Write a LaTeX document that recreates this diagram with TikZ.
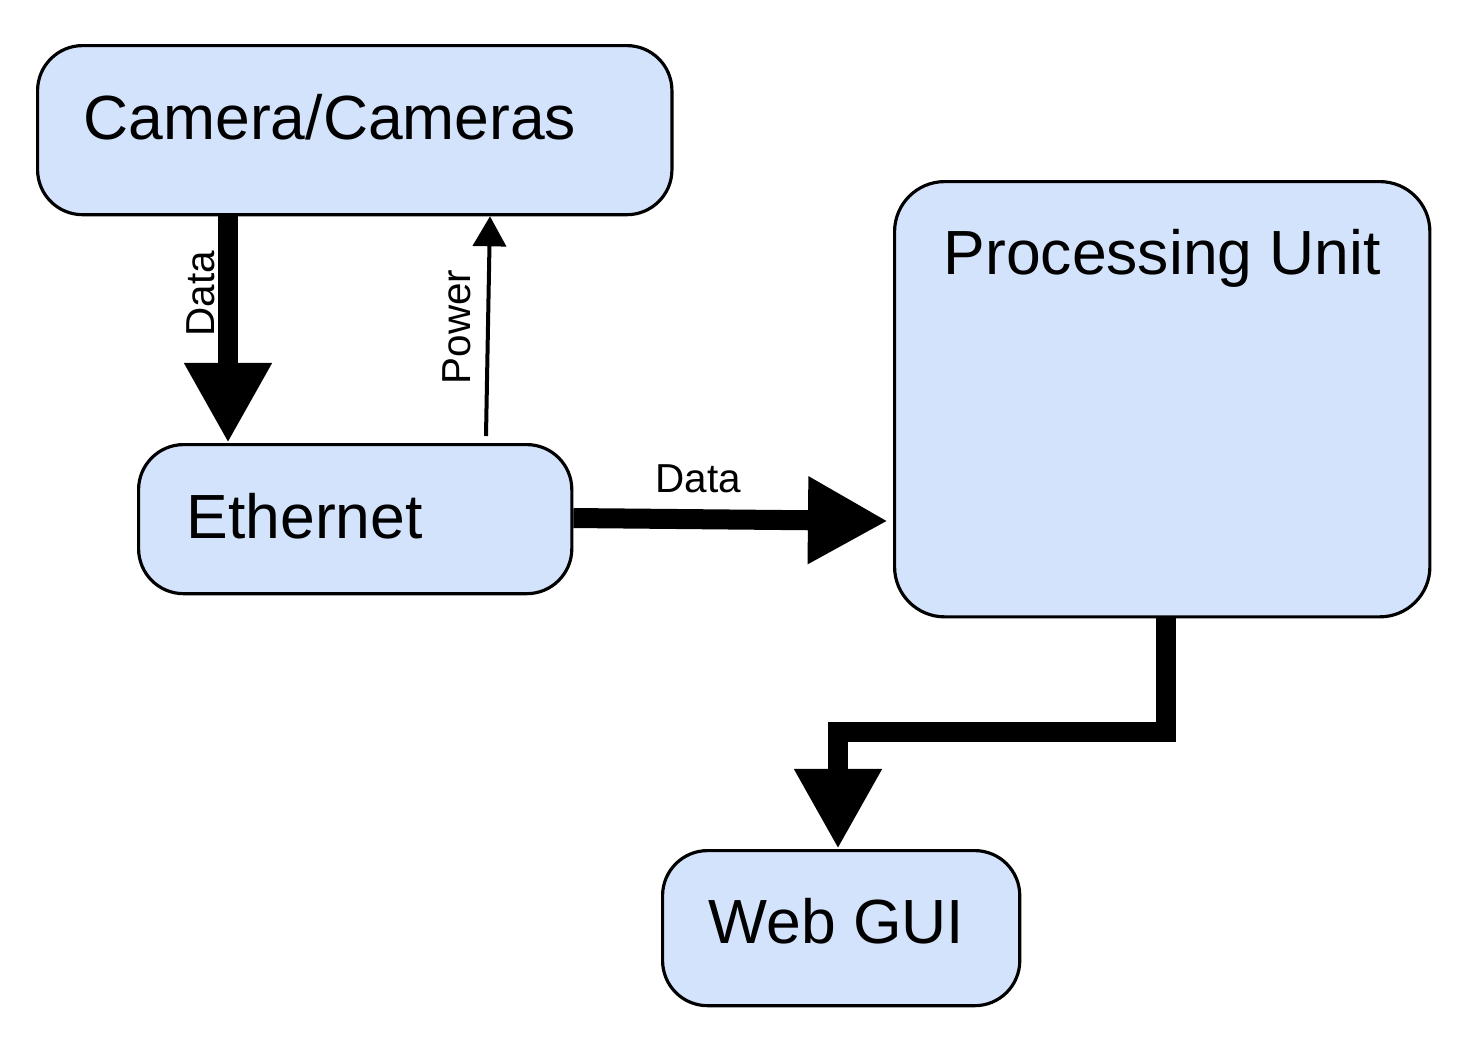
\documentclass[tikz,border=0pt]{standalone}
\usepackage{fontspec}
\setmainfont{Liberation Sans}
\usetikzlibrary{arrows.meta}
\definecolor{boxfill}{RGB}{212,227,252}
\tikzset{
  box/.style={draw=black, line width=0.9pt, fill=boxfill, rounded corners=0.45cm, anchor=north west, inner sep=0pt},
  bigtext/.style={font=\fontsize{17.75}{20}\selectfont, inner sep=0pt, anchor=base west},
  smalltext/.style={font=\fontsize{11.5}{13}\selectfont, inner sep=0pt, anchor=base west},
  bigarrow/.style={line width=0.2cm, -{Triangle[length=0.8cm, width=0.82cm]}},
  thinarrow/.style={line width=0.04cm, -{Triangle[length=0.3cm, width=0.33cm]}}
}
\begin{document}
\begin{tikzpicture}[x=0.01cm, y=-0.01cm]
\useasboundingbox (0,0) rectangle (1468,1053);
% boxes
\node[box, minimum width=6.34cm, minimum height=1.69cm] (cam) at (36,44) {};
\node[box, minimum width=5.35cm, minimum height=4.35cm, rounded corners=0.5cm] (pu) at (893,180) {};
\node[box, minimum width=4.33cm, minimum height=1.49cm] (eth) at (137,443) {};
\node[box, minimum width=3.57cm, minimum height=1.55cm] (web) at (661,849) {};
% texts
\node[bigtext] (camt) at (83,139) {Camera/Cameras};
\node[bigtext] (put) at (943,274) {Processing Unit};
\node[bigtext] (etht) at (186,538) {Ethernet};
\node[bigtext] (webt) at (708,943) {Web GUI};
% helper coordinates
\coordinate (dx) at (228,0);
\coordinate (pxa) at (486,0);
\coordinate (pxb) at (490,0);
\coordinate (rx) at (1166,0);
\coordinate (lx) at (838,0);
\coordinate (my) at (0,732);
\coordinate (ry1) at (0,518);
\coordinate (ry2) at (0,521);
% connectors
\draw[bigarrow] (cam.south -| dx) -- (eth.north -| dx);
\draw[thinarrow] ([yshift=0.07cm]eth.north -| pxa) -- (cam.south -| pxb);
\draw[bigarrow] (eth.east |- ry1) -- ([xshift=-0.05cm]pu.west |- ry2);
\draw[bigarrow] (pu.south -| rx) -- (rx |- my) -- (lx |- my) -- (web.north -| lx);
% labels
\node[smalltext, rotate=90] (ldata1) at (215,337) {Data};
\node[smalltext, rotate=90] (lpower) at (470,385) {Power};
\node[smalltext] (ldata2) at (655,492) {Data};
\end{tikzpicture}
\end{document}
